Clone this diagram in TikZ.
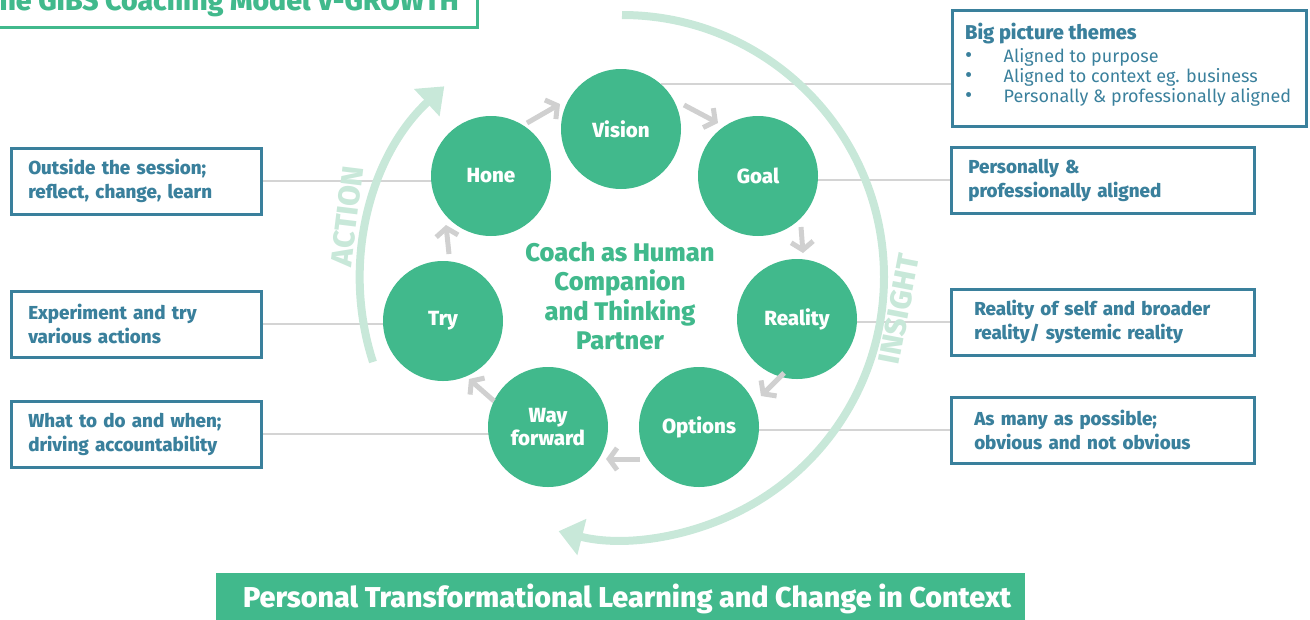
\documentclass[tikz,border=0pt]{standalone}
\usepackage{fontspec}
\setmainfont{Fira Sans}[BoldFont={Fira Sans ExtraBold}]
\usepackage{graphicx}
\usetikzlibrary{arrows.meta,backgrounds,calc}
\definecolor{gr}{HTML}{41B98C}
\definecolor{lgr}{HTML}{C8E8D9}
\definecolor{bl}{HTML}{3A809C}
\definecolor{gy}{HTML}{D4D4D4}
\definecolor{chv}{HTML}{D0D0D0}
\begin{document}
\begin{tikzpicture}[x=1pt,y=-1pt,
  circ/.style={circle,fill=gr,minimum size=120pt,inner sep=0pt,text=white,
    font=\fontsize{20.5}{23}\selectfont\bfseries,align=center},
  tbox/.style={draw=bl,line width=2.5pt,text=bl,rectangle,
    font=\fontsize{18.8}{24}\selectfont\bfseries,align=left,minimum height=66pt},
  lbox/.style={tbox,minimum width=250pt,text width=216pt,inner xsep=17pt},
  rbox/.style={tbox,minimum width=303pt},
  conn/.style={draw=gy,line width=2pt},
  chev/.style={draw=chv,line width=5pt,-{Straight Barb[length=8pt,width=22pt]}},
  bigarc/.style={draw=lgr,line width=8pt,-{Triangle[length=24pt,width=36pt]}},
  arclabel/.style={text=lgr,font=\fontsize{30}{31}\selectfont\bfseries},
  bul/.style={anchor=base west,inner sep=0pt,text=bl,font=\fontsize{18}{20}\selectfont}
]
\useasboundingbox (0,0) rectangle (1310,619);
\clip (0,0) rectangle (1310,619);

% title
\draw[draw=gr,line width=3pt] (-10,-40) rectangle (477,27);
\node[anchor=base east,inner sep=0pt,text=gr,font=\fontsize{28.5}{30}\selectfont\bfseries] (title) at (459,10) {The GIBS Coaching Model V-GROWTH};

% circles
\node[circ] (vision) at (621,129) {Vision};
\node[circ] (goal) at (758,176) {Goal};
\node[circ] (reality) at (797,319) {Reality};
\node[circ] (options) at (699,427) {Options};
\node[circ] (way) at (548,427) {Way\\forward};
\node[circ] (try) at (443,321) {Try};
\node[circ] (hone) at (491,176) {Hone};

% centre text
\node[text=gr,font=\fontsize{25.5}{29.5}\selectfont\bfseries,align=center] (coach) at (620,296)
  {Coach as Human\\Companion\\and Thinking\\Partner};

% boxes
\node[draw=bl,line width=2.5pt,rectangle,minimum width=354pt,minimum height=116pt,
  anchor=north west] (big) at (951,9) {};
\node[anchor=base west,inner sep=0pt,text=bl,font=\fontsize{20}{24}\selectfont\bfseries] (bighead) at (965,39) {Big picture themes};
\node[bul] (b1) at (965,62) {\makebox[38.5pt][l]{\fontsize{22}{20}\selectfont\textbullet}Aligned to purpose};
\node[bul] (b2) at (965,82) {\makebox[38.5pt][l]{\fontsize{22}{20}\selectfont\textbullet}Aligned to context eg. business};
\node[bul] (b3) at (965,102) {\makebox[38.5pt][l]{\fontsize{22}{20}\selectfont\textbullet}Personally \& professionally aligned};

\node[rbox,inner xsep=17pt,text width=269pt,anchor=north west] (goalbox) at (950,146) {Personally \&\\professionally aligned};
\node[rbox,inner xsep=23pt,text width=257pt,anchor=north west] (realbox) at (950,288) {Reality of self and broader\\reality/ systemic reality};
\node[rbox,inner xsep=23pt,text width=257pt,anchor=north west] (optbox) at (950,396) {As many as possible;\\obvious and not obvious};
\node[lbox,anchor=north west] (honebox) at (10,147) {Outside the session;\\reflect, change, learn};
\node[lbox,anchor=north west] (trybox) at (10,290) {Experiment and try\\various actions};
\node[lbox,anchor=north west] (waybox) at (10,400) {What to do and when;\\driving accountability};

% connectors (behind)
\begin{scope}[on background layer]
\draw[conn] (vision.48.6) -- (vision.48.6 -| big.west);
\draw[conn] (goalbox.west) -- (goalbox.west -| goal.center);
\draw[conn] (realbox.west) -- (realbox.west -| reality.center);
\draw[conn] (optbox.west) -- (optbox.west -| options.center);
\draw[conn] (honebox.east) -- (honebox.east -| hone.center);
\draw[conn] (trybox.east) -- (trybox.east -| try.center);
\draw[conn] (waybox.east) -- (waybox.east -| way.center);
\end{scope}

% big arcs
\draw[bigarc] (622,15) coordinate (insightstart) arc[start angle=270,end angle=464,radius=262];
\draw[bigarc] (373,362) coordinate (actionstart) arc[start angle=162,end angle=227,radius=265];
\node[arclabel,rotate=83] (action) at (347,216) {ACTION};
\node[arclabel,rotate=79] (insight) at (899,309) {INSIGHT};

% chevrons between circles
\coordinate (c1a) at (527,123); \coordinate (c1b) at (560,104);
\coordinate (c2a) at (684,105); \coordinate (c2b) at (718,123);
\coordinate (c3a) at (801,227); \coordinate (c3b) at (803,253);
\coordinate (c4a) at (784,373); \coordinate (c4b) at (761,396);
\coordinate (c5a) at (640,459); \coordinate (c5b) at (606,459);
\coordinate (c6a) at (494,401); \coordinate (c6b) at (469,379);
\coordinate (c7a) at (449,254); \coordinate (c7b) at (446,225);
\draw[chev] (c1a) -- (c1b);
\draw[chev] (c2a) -- (c2b);
\draw[chev] (c3a) -- (c3b);
\draw[chev] (c4a) -- (c4b);
\draw[chev] (c5a) -- (c5b);
\draw[chev] (c6a) -- (c6b);
\draw[chev] (c7a) -- (c7b);

% banner
\node[fill=gr,minimum width=809pt,minimum height=60pt,anchor=north west,inner sep=0pt] (banner) at (216,573) {};
\node[anchor=base west,inner sep=0pt,text=white,font=\fontsize{28.7}{30}\selectfont\bfseries] (bannertext) at (243,607)
  {Personal Transformational Learning and Change in Context};
\end{tikzpicture}
\end{document}
